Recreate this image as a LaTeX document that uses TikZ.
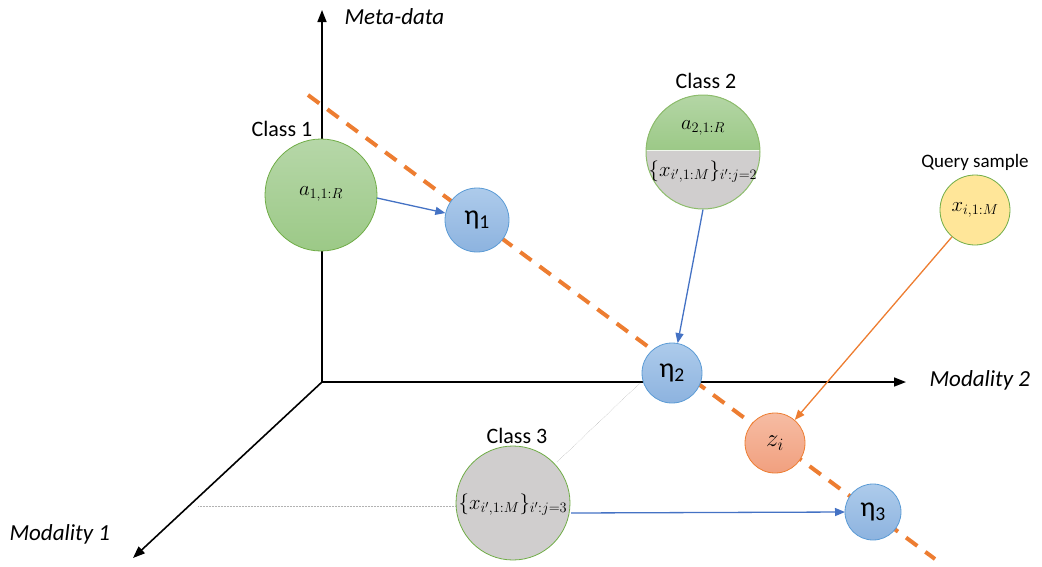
\documentclass[tikz,border=0pt]{standalone}
\usepackage{fontspec}
\setmainfont{Carlito}
\usetikzlibrary{arrows.meta}
\definecolor{gborder}{HTML}{70AD47}
\definecolor{gtop}{HTML}{B6D7A8}
\definecolor{gbot}{HTML}{9CC987}
\definecolor{btop}{HTML}{ADCBEB}
\definecolor{bbot}{HTML}{8DB3DF}
\definecolor{bborder}{HTML}{5B9BD5}
\definecolor{grayfill}{HTML}{D0CECE}
\definecolor{otop}{HTML}{F6BCA3}
\definecolor{obot}{HTML}{F1A07F}
\definecolor{oborder}{HTML}{ED7D31}
\definecolor{yfill}{HTML}{FFE699}
\definecolor{arrblue}{HTML}{4472C4}
\definecolor{dashor}{HTML}{ED7D31}
\tikzset{
  bigtxt/.style={font=\fontsize{22}{26}\selectfont},
  axlabel/.style={font=\fontsize{23}{27}\selectfont\itshape},
  axis/.style={line width=1.6pt,-{Triangle[length=12pt,width=9pt]}},
  greenc/.style={circle,draw=gborder,line width=0.8pt,top color=gtop,bottom color=gbot,minimum size=112pt,inner sep=0pt},
  bluec/.style={circle,draw=bborder,line width=0.8pt,top color=btop,bottom color=bbot,inner sep=0pt,font=\fontsize{28}{32}\selectfont},
  grayc/.style={circle,draw=gborder,line width=0.8pt,fill=grayfill,minimum size=114pt,inner sep=0pt},
  conn/.style={line width=1.3pt,draw=arrblue,-{Triangle[length=10pt,width=8pt]}},
  oconn/.style={line width=1.3pt,draw=oborder,-{Triangle[length=10pt,width=8pt]}},
  proj/.style={draw=gray!60,line width=0.5pt,densely dotted},
  mtxt/.style={font=\fontsize{22}{26}\selectfont}
}
\begin{document}
\begin{tikzpicture}[x=1pt,y=-1pt]
\useasboundingbox (0,0) rectangle (1042,566);
% axes
\coordinate (O) at (322,382);
\coordinate (ytop) at (322,10);
\coordinate (xend) at (906,382);
\coordinate (zend) at (133,558);
\draw[axis] (O) -- (ytop);
\draw[axis] (O) -- (xend);
\draw[axis] (O) -- (zend);
\node[axlabel,anchor=west] (lmeta) at (341,17) {Meta-data};
\node[axlabel,anchor=west] (lmod2) at (926,380) {Modality 2};
\node[axlabel,anchor=west] (lmod1) at (6,534) {Modality 1};
% projection lines
\coordinate (p1) at (198,506);
\coordinate (p2) at (640,383);
\coordinate (p1e) at (456,506);
\coordinate (p2e) at (557,462);
\draw[proj] (p1) -- (p1e);
\draw[proj] (p2) -- (p2e);
% dashed line
\coordinate (d1) at (308,95);
\coordinate (d2) at (935,559);
\draw[dashor,line width=4pt,dash pattern=on 14pt off 10pt] (d1) -- (d2);
% class 1
\node[greenc] (c1) at (321,195) {};
\node[mtxt] (c1t) at (321,194) {$a_{1,1:R}$};
\node[bigtxt] (c1l) at (282,129) {Class 1};
% eta1
\node[bluec,minimum size=64pt] (e1) at (477,220) {η\textsubscript{1}};
% class 2
\begin{scope}
\clip (703,152) circle[radius=57pt];
\fill[top color=gtop,bottom color=gbot] (640,90) rectangle (770,150);
\fill[grayfill] (640,150) rectangle (770,215);
\draw[white!85!gbot,line width=1pt] (640,150) -- (770,150);
\end{scope}
\node[circle,draw=gborder!80,line width=1pt,minimum size=114pt] (c2) at (703,152) {};
\node[mtxt] (c2a) at (703,128) {$a_{2,1:R}$};
\node[font=\fontsize{21}{25}\selectfont] (c2b) at (703,172) {$\{x_{i',1:M}\}_{i':j=2}$};
\node[bigtxt] (c2l) at (706,81) {Class 2};
% query
\node[circle,draw=gborder,line width=0.8pt,fill=yfill,minimum size=70pt] (q) at (975,210) {};
\node[mtxt] (qt) at (975,210) {$x_{i,1:M}$};
\node[font=\fontsize{19}{23}\selectfont] (ql) at (975,162) {Query sample};
% eta2
\node[bluec,minimum size=60pt] (e2) at (672,373) {η\textsubscript{2}};
% z_i
\node[circle,draw=oborder,line width=0.8pt,top color=otop,bottom color=obot,minimum size=60pt,font=\fontsize{27}{31}\selectfont] (z) at (775,443) {$z_i$};
% eta3
\node[bluec,minimum size=56pt] (e3) at (873,512) {η\textsubscript{3}};
% class 3
\node[grayc] (c3) at (513,503) {};
\node[font=\fontsize{21}{25}\selectfont] (c3t) at (513,505) {$\{x_{i',1:M}\}_{i':j=3}$};
\node[bigtxt] (c3l) at (517,436) {Class 3};
% connectors
\coordinate (s1) at (377,198);
\coordinate (s3) at (571,513);
\coordinate (t3) at (845,512);
\draw[conn] (s1) -- (e1);
\draw[conn] (c2.south) -- (e2);
\draw[oconn] (q) -- (z);
\draw[conn] (s3) -- (t3);
\end{tikzpicture}
\end{document}
